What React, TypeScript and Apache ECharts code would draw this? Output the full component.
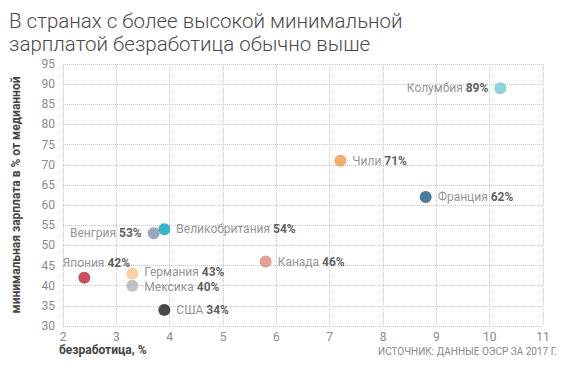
import React, { useEffect, useRef } from "react";
import * as echarts from "echarts";

const countries = ["Колумбия", "Чили", "Франция", "Великобритания", "Венгрия", "Канада", "Япония", "Германия", "Мексика", "США"];
const unemployment = [10.2, 7.2, 8.8, 3.9, 3.7, 5.8, 2.4, 3.3, 3.3, 3.9];
const minWage = [89, 71, 62, 54, 53, 46, 42, 43, 40, 34];
const colors = ["#76c8d3", "#f1964a", "#1e5b87", "#0aa3bf", "#7e93ad", "#e08878", "#bd2038", "#f8c48e", "#b2b2b2", "#1b1b1b"];
const labelPos = ["left", "right", "right", "right", "left", "right", "top", "right", "right", "right"];
const labelOffsets = [[0, 0], [0, 0], [0, 0], [0, 0], [0, 0], [0, 0], [12, 3], [0, -1.5], [0, 1.5], [0, 0]];

const FONT = "Roboto, 'Open Sans', sans-serif";

export default function App() {
  const ref = useRef<HTMLDivElement>(null);
  useEffect(() => {
    document.body.style.margin = "0";
    const chart = echarts.init(ref.current!, undefined, { renderer: "svg" });
    const data = countries.map((c, i) => ({
      name: c,
      value: [unemployment[i], minWage[i]],
      itemStyle: { color: colors[i] },
      label: {
        position: labelPos[i] as any,
        distance: 6,
        offset: labelOffsets[i],
      },
    }));
    chart.setOption({
      animation: false,
      textStyle: { fontFamily: FONT },
      title: {
        text: "В странах с более высокой минимальной\nзарплатой безработица обычно выше",
        left: 4,
        top: 4,
        textStyle: { fontFamily: FONT, fontSize: 20.5, fontWeight: 300, color: "#4a4a4a", lineHeight: 23 },
      },
      graphic: [
        {
          type: "text",
          right: 13,
          top: 346,
          style: { text: "ИСТОЧНИК: ДАННЫЕ ОЭСР ЗА 2017 Г.", fontFamily: FONT, fontSize: 10, fill: "#888" },
        },
      ],
      grid: { left: 63, right: 27, top: 64, bottom: 46 },
      xAxis: {
        type: "value",
        min: 2,
        max: 11,
        interval: 1,
        name: "безработица, %",
        nameLocation: "start",
        nameGap: 0,
        nameTextStyle: { fontFamily: FONT, fontSize: 12, fontWeight: "bold", color: "#444", align: "left", verticalAlign: "top", padding: [18, 0, 0, -4] },
        axisLine: { show: false },
        axisTick: { show: false },
        axisLabel: { color: "#8a8a8a", fontSize: 12, margin: 5 },
        splitLine: { lineStyle: { type: "dotted", color: "#c8c8c8" } },
      },
      yAxis: {
        type: "value",
        min: 30,
        max: 95,
        interval: 5,
        name: "минимальная зарплата в % от медианной",
        nameLocation: "middle",
        nameGap: 41,
        nameTextStyle: { fontFamily: FONT, fontSize: 12, fontWeight: "bold", color: "#444" },
        axisLine: { show: false },
        axisTick: { show: false },
        axisLabel: { color: "#8a8a8a", fontSize: 12, margin: 8 },
        splitLine: { lineStyle: { type: "dotted", color: "#c8c8c8" } },
      },
      series: [
        {
          type: "scatter",
          symbolSize: 12,
          data,
          label: {
            show: true,
            formatter: (p: any) => `{n|${p.name}} {v|${p.value[1]}%}`,
            rich: {
              n: { fontFamily: FONT, fontSize: 12, color: "#777", lineHeight: 12 },
              v: { fontFamily: FONT, fontSize: 12, color: "#333", fontWeight: "bold", lineHeight: 12 },
            },
          },
        },
      ],
    });
    return () => chart.dispose();
  }, []);
  return <div ref={ref} style={{ width: 570, height: 372 }} />;
}
